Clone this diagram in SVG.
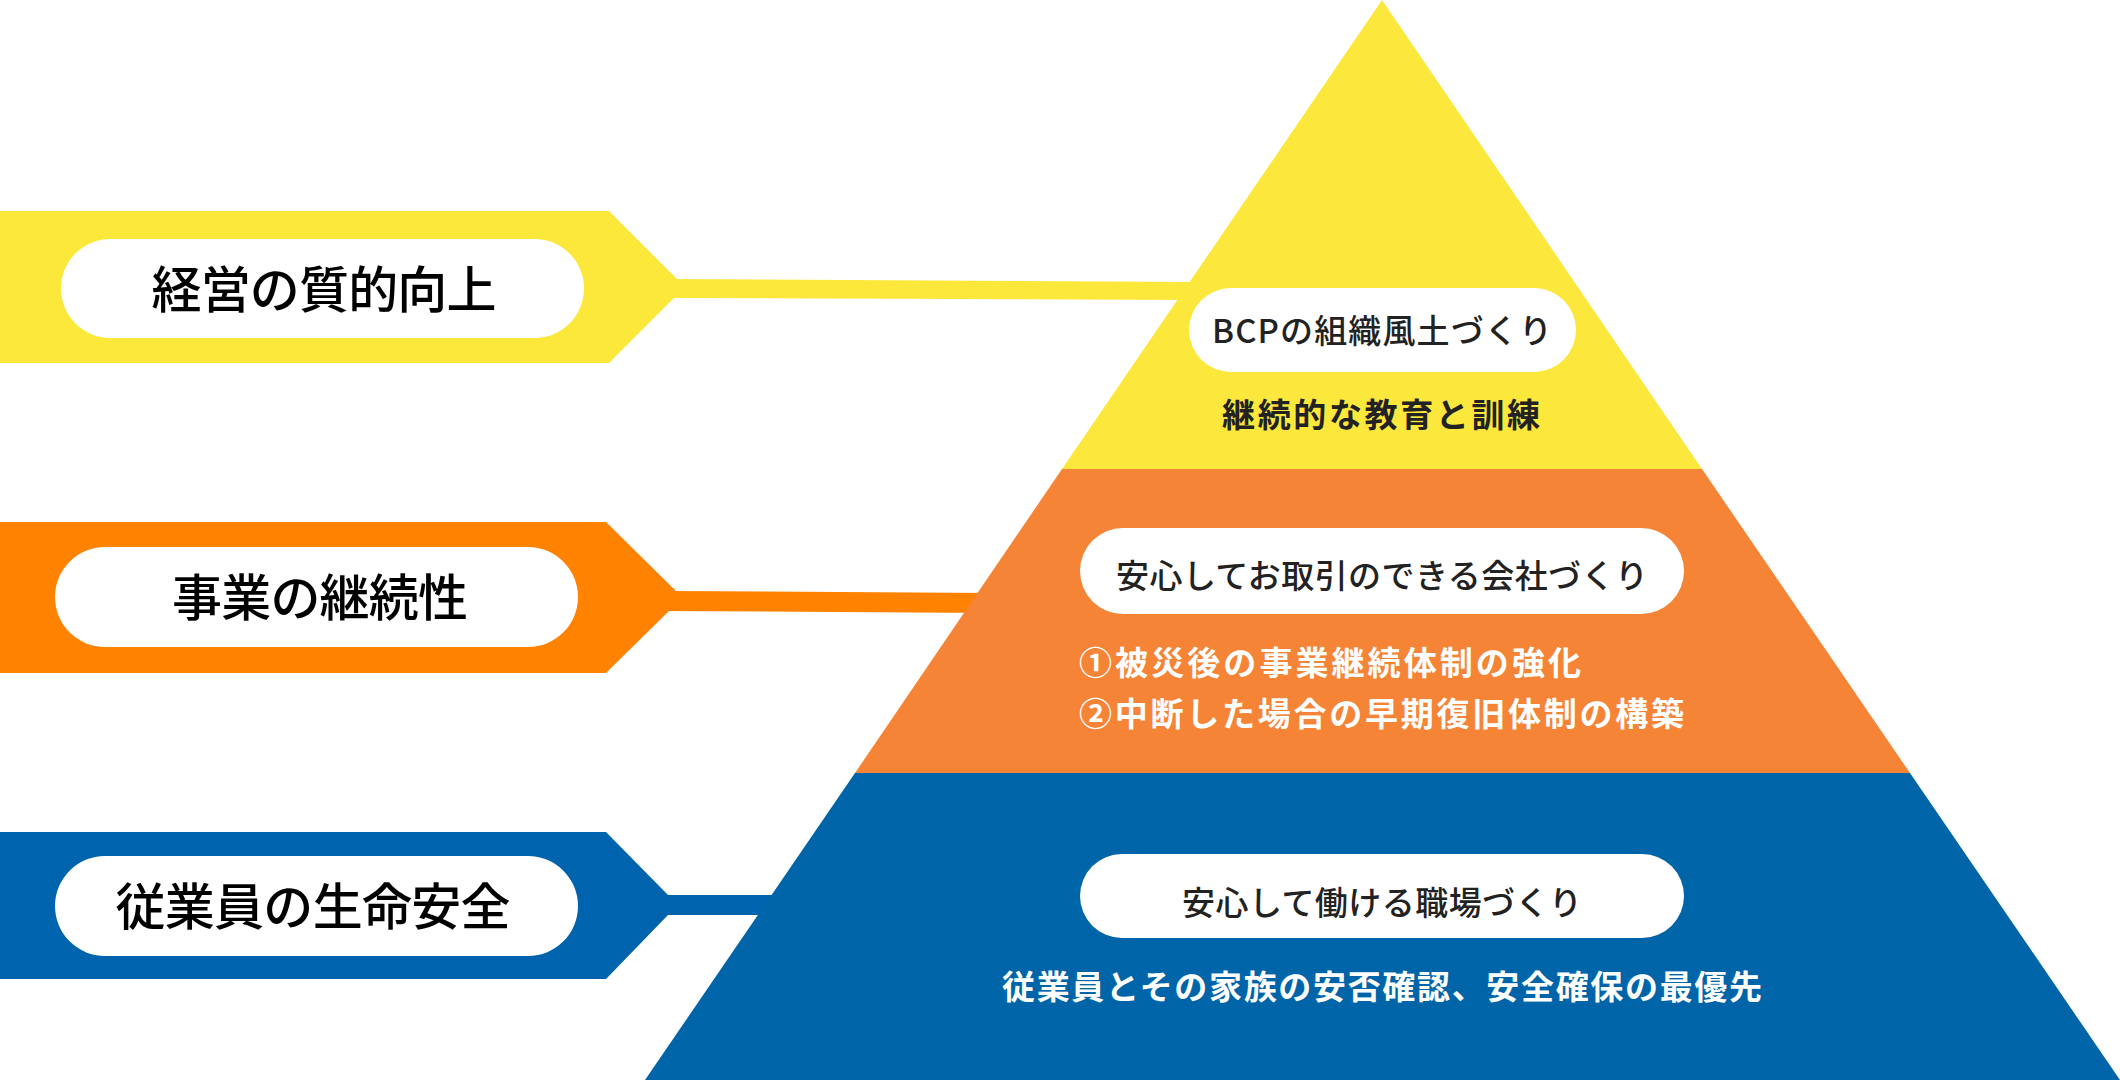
<svg xmlns="http://www.w3.org/2000/svg" width="2120" height="1080" viewBox="0 0 2120 1080">
<style>
.lbl{font-family:"Noto Sans CJK JP","Noto Sans",sans-serif;font-size:50px;font-weight:500;fill:#000;text-anchor:middle}
.pt{font-family:"Noto Sans CJK JP","Noto Sans",sans-serif;font-size:33px;font-weight:500;fill:#222;text-anchor:middle}
.dt{font-family:"Noto Sans CJK JP","Noto Sans",sans-serif;font-size:33px;font-weight:700}
.pill{fill:#fff}
</style>
<rect width="2120" height="1080" fill="#fff"/>
<g id="connectors">
<polygon points="670,279 1200,282 1200,300 670,298" fill="#FBE83A"/>
<polygon points="668,591 992,593 992,613 664,611" fill="#FF8200"/>
<polygon points="664,895 782,895 782,915 664,915" fill="#0063AE"/>
</g>
<g id="pyramid-top">
<polygon points="1382,0 1702,469 1062,469" fill="#FCE83C"/>
<rect class="pill" x="1189" y="288" width="387" height="84" rx="42"/>
<text class="pt" x="1382" y="343" font-size="34" textLength="340">BCPの組織風土づくり</text>
<text class="dt" x="1381" y="427" fill="#222" text-anchor="middle" textLength="318">継続的な教育と訓練</text>
</g>
<g id="pyramid-middle">
<polygon points="1062,469 1702,469 1910,773 855,773" fill="#F58436"/>
<rect class="pill" x="1080" y="528" width="604" height="86" rx="43"/>
<text class="pt" x="1382" y="588" textLength="532">安心してお取引のできる会社づくり</text>
<text class="dt" x="1079" y="675" font-size="35" fill="#fff" textLength="502">①被災後の事業継続体制の強化</text>
<text class="dt" x="1079" y="726" font-size="35" fill="#fff" textLength="605">②中断した場合の早期復旧体制の構築</text>
</g>
<g id="pyramid-bottom">
<polygon points="855,773 1910,773 2120,1080 645,1080" fill="#0065A8"/>
<rect class="pill" x="1080" y="854" width="604" height="84" rx="42"/>
<text class="pt" x="1382" y="915" textLength="400">安心して働ける職場づくり</text>
<text class="dt" x="1382" y="999" font-size="34" fill="#fff" text-anchor="middle" textLength="760">従業員とその家族の安否確認、安全確保の最優先</text>
</g>
<g id="tag-quality">
<polygon points="0,211 609,211 677,279 674,298 609,363 0,363" fill="#FBE83A"/>
<rect class="pill" x="61" y="239" width="523" height="99" rx="49.5"/>
<text class="lbl" x="324" y="308" textLength="345">経営の質的向上</text>
</g>
<g id="tag-continuity">
<polygon points="0,522 606,522 676,591 669,611 606,673 0,673" fill="#FF8200"/>
<rect class="pill" x="55" y="547" width="523" height="100" rx="50"/>
<text class="lbl" x="320" y="616" textLength="296">事業の継続性</text>
</g>
<g id="tag-safety">
<polygon points="0,832 606,832 668,895 668,915 606,979 0,979" fill="#0063AE"/>
<rect class="pill" x="55" y="856" width="523" height="100" rx="50"/>
<text class="lbl" x="313" y="925" textLength="395">従業員の生命安全</text>
</g>
</svg>
